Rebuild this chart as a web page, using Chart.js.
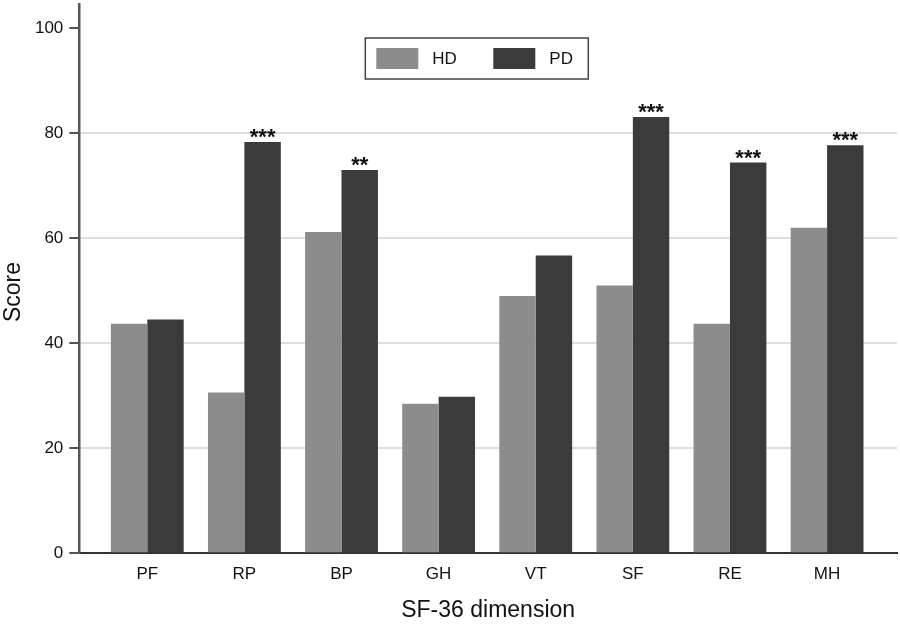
<!DOCTYPE html>
<html>
<head>
<meta charset="utf-8">
<script src="https://cdn.jsdelivr.net/npm/chart.js@4.4.1/dist/chart.umd.min.js"></script>
<style>
  html, body { margin: 0; padding: 0; background: #fff; }
  #wrap { width: 900px; height: 624px; }
</style>
</head>
<body>
<div id="wrap"><canvas id="chart"></canvas></div>
<script>
// SF-36 dimension scores, HD vs PD
const DIMENSIONS = ['PF', 'RP', 'BP', 'GH', 'VT', 'SF', 'RE', 'MH'];
const HD_SCORES = [43.7, 30.6, 61.2, 28.5, 49.0, 51.0, 43.7, 62.0];
const PD_SCORES = [44.5, 78.3, 73.0, 29.8, 56.7, 83.1, 74.4, 77.7];
const SIGNIF = ['', '***', '**', '', '', '***', '***', '***'];
const Y_TICKS = [0, 20, 40, 60, 80, 100];

const HD_COLOR = '#8c8c8c';
const PD_COLOR = '#3b3b3b';
const FONT = '"Liberation Sans", Arial, Helvetica, sans-serif';

// stars above PD bars + rotated y title
const starsPlugin = {
  id: 'stars',
  afterDatasetsDraw(chart) {
    const ctx = chart.ctx;
    const meta = chart.getDatasetMeta(1);
    ctx.save();
    ctx.fillStyle = '#111';
    ctx.font = 'bold 22px ' + FONT;
    ctx.textAlign = 'center';
    ctx.textBaseline = 'alphabetic';
    meta.data.forEach((bar, i) => {
      if (SIGNIF[i]) ctx.fillText(SIGNIF[i], bar.x, bar.y + 2);
    });
    ctx.translate(14, 292);
    ctx.rotate(-Math.PI / 2);
    ctx.font = '23px ' + FONT;
    ctx.textBaseline = 'middle';
    ctx.fillText('Score', 0, 0);
    ctx.restore();
  }
};

// boxed legend inside the plot
const boxLegend = {
  id: 'boxLegend',
  afterDraw(chart) {
    const ctx = chart.ctx;
    const a = chart.chartArea;
    const bx = a.left + 286, by = a.top + 34;
    ctx.save();
    ctx.fillStyle = '#fff';
    ctx.fillRect(bx, by, 223, 41);
    ctx.strokeStyle = '#444';
    ctx.lineWidth = 1.5;
    ctx.strokeRect(bx, by, 223, 41);
    ctx.font = '17px ' + FONT;
    ctx.textBaseline = 'middle';
    ctx.textAlign = 'left';
    chart.data.datasets.forEach((ds, i) => {
      const sx = bx + 11 + i * 117;
      ctx.fillStyle = ds.backgroundColor;
      ctx.fillRect(sx, by + 10, 42, 21);
      ctx.fillStyle = '#111';
      ctx.fillText(ds.label, sx + 56, by + 21.5);
    });
    ctx.restore();
  }
};

new Chart(document.getElementById('chart'), {
  type: 'bar',
  data: {
    datasets: [
      {
        label: 'HD',
        data: HD_SCORES.map((v, i) => ({ x: i, y: v })),
        backgroundColor: HD_COLOR,
        borderWidth: 0,
        categoryPercentage: 0.75,
        barPercentage: 1.0
      },
      {
        label: 'PD',
        data: PD_SCORES.map((v, i) => ({ x: i, y: v })),
        backgroundColor: PD_COLOR,
        borderWidth: 0,
        categoryPercentage: 0.75,
        barPercentage: 1.0
      }
    ]
  },
  options: {
    responsive: true,
    maintainAspectRatio: false,
    animation: false,
    layout: { padding: { top: 4, right: 3, left: 0, bottom: 0 } },
    plugins: {
      legend: { display: false },
      tooltip: { enabled: false }
    },
    scales: {
      x: {
        type: 'linear',
        offset: false,
        min: -0.7,
        max: 7.72,
        afterBuildTicks: s => { s.ticks = DIMENSIONS.map((d, i) => ({ value: i })); },
        afterFit: s => { s.height = 70.7; s.paddingLeft = 0; s.paddingRight = 0; },
        ticks: {
          callback: v => DIMENSIONS[v] || '',
          color: '#111',
          font: { family: FONT, size: 17 },
          padding: 11,
          maxRotation: 0,
          autoSkip: false
        },
        grid: { display: false, drawTicks: false, offset: false },
        border: { display: true, color: '#333', width: 2 },
        title: {
          display: true,
          text: 'SF-36 dimension',
          color: '#111',
          font: { family: FONT, size: 23 },
          padding: { top: 0, bottom: 0 }
        }
      },
      y: {
        min: 0,
        max: 104.6,
        afterBuildTicks: s => { s.ticks = Y_TICKS.map(v => ({ value: v })); },
        afterFit: s => { s.width = 79.3; s.paddingTop = 0; s.paddingBottom = 0; },
        ticks: {
          color: '#111',
          font: { family: FONT, size: 17 },
          padding: 6
        },
        grid: {
          color: c => (c.tick && (c.tick.value === 0 || c.tick.value === 100)) ? 'rgba(0,0,0,0)' : '#dedede',
          lineWidth: 2,
          tickColor: '#555',
          tickLength: 10,
          tickWidth: 2
        },
        border: { display: true, color: '#555', width: 2.5 }
      }
    }
  },
  plugins: [starsPlugin, boxLegend]
});
</script>
</body>
</html>
